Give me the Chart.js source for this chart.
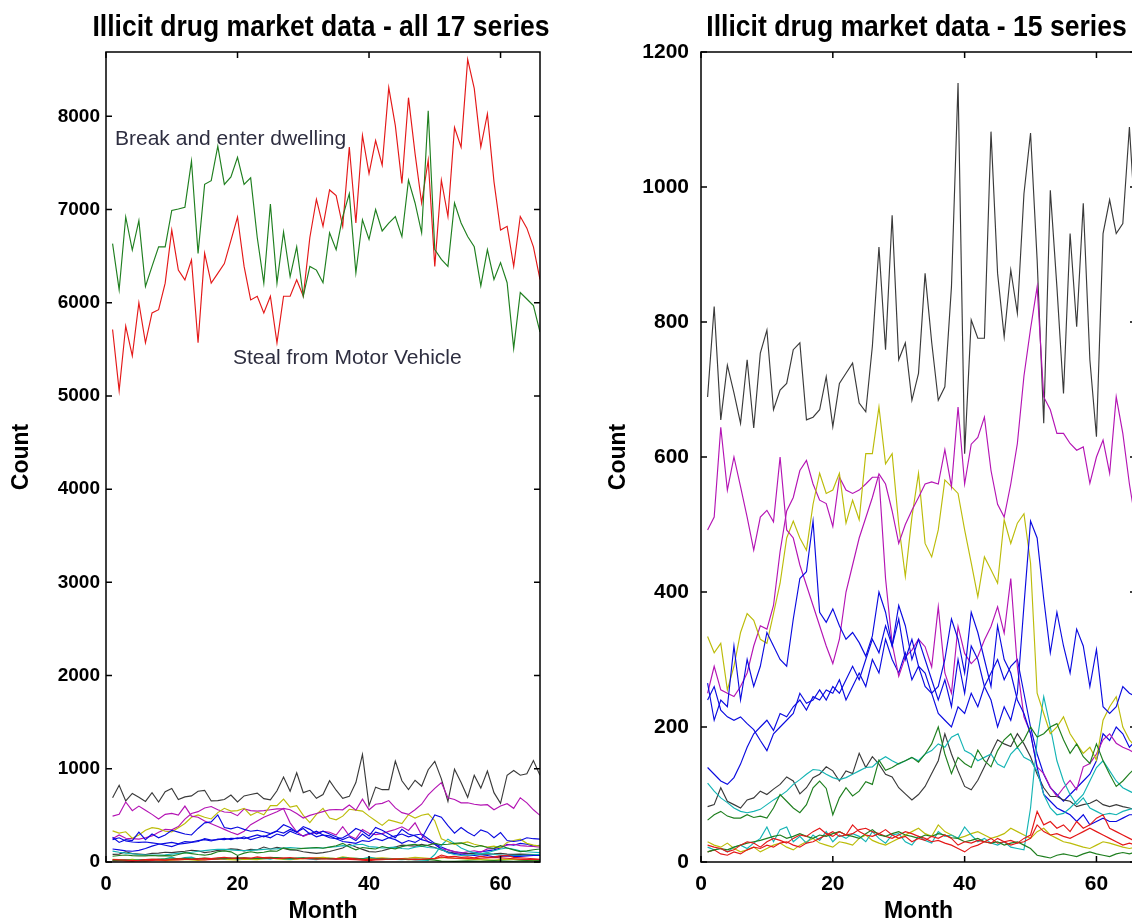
<!DOCTYPE html>
<html><head><meta charset="utf-8">
<script src="https://cdn.jsdelivr.net/npm/chart.js@4/dist/chart.umd.min.js"></script>
<style>
html,body{margin:0;padding:0;background:#fff;overflow:hidden;width:1132px;height:923px;}
#c1{position:absolute;left:0;top:0;}
#c2{position:absolute;left:597px;top:0;}
</style></head><body>
<canvas id="c1" width="566" height="923"></canvas>
<canvas id="c2" width="564" height="923"></canvas>
<script>
// ---- data ----
const months = [1,2,3,4,5,6,7,8,9,10,11,12,13,14,15,16,17,18,19,20,21,22,23,24,25,26,27,28,29,30,31,32,33,34,35,36,37,38,39,40,41,42,43,44,45,46,47,48,49,50,51,52,53,54,55,56,57,58,59,60,61,62,63,64,65,66];
const xTicks = [0,20,40,60];
const yTicksAll = [0,1000,2000,3000,4000,5000,6000,7000,8000];
const yTicks15 = [0,200,400,600,800,1000,1200];

const breakEnterDwelling = [5713,5057,5750,5430,6000,5570,5890,5925,6210,6780,
 6350,6245,6460,5570,6530,6210,6315,6420,6670,6920,
 6390,6030,6070,5890,6070,5570,6070,6070,6245,6070,
 6700,7110,6820,7210,7150,6820,7670,6855,7795,7385,
 7740,7475,8308,7900,7280,8200,7600,7070,7530,6390,
 7315,6925,7880,7670,8610,8300,7670,8025,7300,6780,
 6820,6390,6925,6800,6600,6250];
const stealFromMotorVehicle = [6635,6140,6920,6565,6880,6175,6390,6600,6600,6990,
 7005,7025,7520,6530,7270,7310,7680,7270,7350,7560,
 7270,7340,6700,6210,7060,6210,6760,6280,6600,6070,
 6390,6350,6215,6750,6570,6925,7170,6320,6890,6680,
 7000,6770,6855,6925,6710,7315,7070,6750,8060,6570,
 6465,6390,7070,6855,6710,6600,6180,6570,6250,6430,
 6215,5510,6110,6040,5970,5685];

const blackTop = [689,823,655,736,695,650,744,643,754,788,
 670,699,709,759,769,655,659,670,719,645,
 709,724,739,680,667,764,911,759,958,744,
 769,684,724,872,770,684,704,852,1154,605,
 803,776,776,1082,872,778,877,813,990,1080,
 892,650,995,852,694,931,793,976,744,630,
 931,981,931,946,1089,930];
const blackLow = [82,85,110,90,85,80,92,95,105,100,
 108,115,126,120,101,110,125,130,141,135,
 120,135,131,161,140,156,145,130,126,110,
 101,92,100,112,131,150,190,160,135,112,
 107,121,141,161,181,175,171,190,175,156,
 130,110,97,97,92,90,82,85,87,92,
 85,82,85,82,80,77];
const magentaA = [492,511,644,551,600,556,511,462,511,521,
 504,600,492,480,440,410,380,350,320,294,
 330,400,440,480,510,540,575,560,520,472,
 500,521,540,560,563,560,611,556,674,560,
 619,629,659,580,530,511,560,620,720,790,
 852,689,670,635,635,620,610,615,561,600,
 625,576,689,635,560,500];
const magentaB = [250,290,255,250,245,260,280,320,350,345,
 380,460,520,540,580,595,560,536,531,497,
 570,551,546,551,560,570,570,420,324,275,
 304,314,330,319,289,378,280,250,349,309,
 294,304,329,349,378,339,420,289,215,191,
 141,131,111,97,110,121,107,141,146,160,
 181,190,176,170,166,160];
const yellowHigh = [334,310,324,255,290,340,368,358,330,324,
 368,413,480,505,480,462,530,576,546,551,
 576,502,536,507,605,605,674,590,605,500,
 423,511,576,472,452,492,566,556,546,492,
 443,393,452,433,413,507,472,502,516,443,
 250,220,190,200,215,190,175,161,170,151,
 210,230,245,200,181,170];
const yellowLow = [30,25,22,28,20,15,18,22,15,20,
 25,28,22,18,25,30,35,28,25,22,
 30,28,25,35,40,32,28,25,30,35,
 40,45,50,42,38,55,45,40,35,38,
 42,45,40,35,38,42,50,45,40,35,
 45,50,40,35,30,28,25,22,20,25,
 30,28,25,22,20,22];
const blueX = [265,210,240,230,320,240,300,260,290,340,
 320,300,290,360,420,430,505,370,355,375,
 350,330,340,325,305,335,400,370,320,380,
 350,300,330,300,270,240,270,230,300,250,
 320,300,260,240,200,230,210,250,380,505,
 480,390,310,370,320,280,345,320,260,315,
 230,220,230,260,250,245];
const blueY = [240,260,225,215,210,215,205,196,180,165,
 190,200,210,220,250,235,240,255,240,260,
 250,270,290,270,300,330,310,350,320,360,
 300,330,290,280,250,260,300,360,330,280,
 370,340,300,260,350,300,280,240,220,190,
 140,100,90,80,75,70,60,70,55,60,
 65,60,60,65,70,70];
const blueZ = [140,130,120,115,125,145,170,190,200,210,
 195,220,215,230,240,225,245,240,255,250,
 270,240,260,280,260,300,280,330,300,280,
 310,270,290,260,250,220,210,200,230,220,
 250,230,260,280,300,270,290,300,250,200,
 160,130,110,100,90,100,110,120,130,150,
 190,180,200,190,170,180];
const greenMid = [62,70,75,68,65,65,70,66,68,65,
 80,100,90,80,73,85,110,120,109,70,
 95,110,98,105,119,115,151,136,140,146,
 150,155,148,160,175,200,160,131,155,146,
 140,166,150,141,165,181,190,170,181,200,
 185,190,200,205,181,161,175,156,146,175,
 150,130,112,120,131,140];
const greenLow = [15,18,20,18,22,25,28,30,32,35,
 38,40,35,38,42,38,35,40,38,42,
 45,40,38,35,42,48,40,38,42,45,
 40,38,35,40,38,42,40,36,35,30,
 32,35,30,28,30,25,28,30,25,20,
 10,8,6,10,12,10,8,12,15,12,
 10,8,12,14,12,15];
const cyanMid = [117,105,95,88,80,75,73,75,78,85,
 92,98,105,115,122,130,137,136,130,125,
 122,125,130,135,140,141,150,156,150,145,
 150,155,150,160,165,175,170,185,190,165,
 160,150,155,160,145,140,160,170,155,150,
 135,100,80,70,72,80,90,100,120,140,
 150,135,120,110,105,100];
const cyanLow = [22,18,20,15,22,25,20,28,35,52,
 30,48,52,30,38,28,40,32,45,30,
 40,35,42,38,30,45,35,28,40,42,
 30,25,38,32,28,45,38,40,35,52,
 40,30,35,28,25,30,22,20,18,80,
 180,245,200,150,120,100,85,95,80,75,
 70,72,70,75,78,80];
const redLowA = [25,22,20,15,18,25,30,28,22,30,
 35,32,28,35,40,38,45,50,42,38,
 45,40,55,45,40,38,42,48,40,35,
 38,30,35,32,38,35,40,35,25,30,
 28,32,30,28,35,30,25,28,35,40,
 75,55,60,50,55,45,60,50,55,65,
 70,50,45,40,35,30];
const redLowB = [15,18,12,10,15,12,18,22,20,25,
 22,28,30,25,22,28,30,35,40,45,
 38,40,42,48,50,45,42,38,35,40,
 45,42,38,35,30,32,28,25,20,15,
 22,25,30,35,28,30,32,28,30,35,
 55,45,40,42,38,35,40,45,50,45,
 40,35,30,25,28,25];

const annotations = [
  {text:'Break and enter dwelling', month:1.37, count:7689},
  {text:'Steal from Motor Vehicle', month:19.3, count:5340}
];

// ---- styles ----
const C = {b:'#0a0ae0', g:'#1f7f1f', r:'#e41818', c:'#14b4b4', m:'#b414b4', y:'#bcbc0a', k:'#3a3a3a'};
const fifteen = [
  [blueX,C.b],[greenMid,C.g],[redLowA,C.r],[cyanMid,C.c],[magentaA,C.m],[yellowHigh,C.y],[blackTop,C.k],
  [blueY,C.b],[greenLow,C.g],[redLowB,C.r],[cyanLow,C.c],[magentaB,C.m],[yellowLow,C.y],[blackLow,C.k],
  [blueZ,C.b]
];
const big = [[stealFromMotorVehicle,C.g],[breakEnterDwelling,C.r]];

function ds(arr,color){
  return {data: months.map((m,i)=>({x:m,y:arr[i]})), borderColor:color, borderWidth:1.15,
          pointRadius:0, fill:false, tension:0};
}

const SANS = "'Liberation Sans', Arial, Helvetica, sans-serif";
const AXTF = {family:SANS, size:23, weight:'bold', lineHeight:1};

const framePlugin = {
  id:'frame',
  afterDatasetsDraw(chart){
    const {ctx, chartArea:a, scales:{x,y}} = chart;
    ctx.save();
    ctx.strokeStyle='#000'; ctx.lineWidth=1.5;
    ctx.strokeRect(a.left, a.top, a.right-a.left, a.bottom-a.top);
    const L=6;
    ctx.beginPath();
    x.ticks.forEach(t=>{const p=x.getPixelForValue(t.value);
      ctx.moveTo(p,a.bottom); ctx.lineTo(p,a.bottom-L); ctx.moveTo(p,a.top); ctx.lineTo(p,a.top+L);});
    y.ticks.forEach(t=>{const p=y.getPixelForValue(t.value);
      ctx.moveTo(a.left,p); ctx.lineTo(a.left+L,p); ctx.moveTo(a.right,p); ctx.lineTo(a.right-L,p);});
    ctx.stroke();
    ctx.restore();
  }
};
const notePlugin = {
  id:'notes',
  afterDatasetsDraw(chart){
    const cfg = chart.options.plugins.notes;
    if(!cfg || !cfg.items) return;
    const {ctx, scales:{x,y}} = chart;
    ctx.save();
    ctx.font = "21px " + SANS;
    ctx.fillStyle = '#2e2e40'; ctx.textAlign='left'; ctx.textBaseline='alphabetic';
    cfg.items.forEach(n=>{
      ctx.fillText(n.text, x.getPixelForValue(n.month), y.getPixelForValue(n.count));
    });
    ctx.restore();
  }
};
// condensed bold title centred over the axes box
const titlePlugin = {
  id:'bigTitle',
  afterDraw(chart){
    const cfg = chart.options.plugins.bigTitle;
    if(!cfg || !cfg.text) return;
    const {ctx, chartArea:a} = chart;
    ctx.save();
    ctx.font = "bold 29px " + SANS;
    ctx.fillStyle = '#000'; ctx.textAlign='center'; ctx.textBaseline='alphabetic';
    ctx.translate((a.left+a.right)/2 - 2, 36);
    ctx.scale(0.915, 1);
    ctx.fillText(cfg.text, 0, 0);
    ctx.restore();
  }
};

function makeChart(id, datasets, title, yMax, yTicks, yWidth, rightPad, notes, yTickSize, yTickPad, xTickSize){
  return new Chart(document.getElementById(id), {
    type:'line',
    data:{datasets},
    plugins:[framePlugin, notePlugin, titlePlugin],
    options:{
      responsive:false, animation:false, events:[],
      layout:{padding:{left:0,right:rightPad,top:52,bottom:0}},
      plugins:{legend:{display:false}, tooltip:{enabled:false}, title:{display:false},
        bigTitle:{text:title}, notes:{items:notes}},
      scales:{
        x:{type:'linear', min:0, max:66,
          afterBuildTicks:s=>{s.ticks = xTicks.map(v=>({value:v}));},
          afterFit:s=>{s.height=61;},
          grid:{display:false, drawTicks:false}, border:{display:false},
          ticks:{font:{family:SANS,size:xTickSize,weight:'bold'}, color:'#000', padding:10, maxRotation:0, autoSkip:false, callback:v=>String(v)},
          title:{display:true, text:'Month', color:'#000', font:AXTF, padding:{top:0,bottom:0}}},
        y:{type:'linear', min:0, max:yMax,
          afterBuildTicks:s=>{s.ticks = yTicks.map(v=>({value:v}));},
          afterFit:s=>{s.width=yWidth;},
          grid:{display:false, drawTicks:false}, border:{display:false},
          ticks:{font:{family:SANS,size:yTickSize,weight:'bold'}, color:'#000', padding:yTickPad, autoSkip:false, callback:v=>String(v)},
          title:{display:true, text:'Count', color:'#000', font:AXTF, padding:{top:10.5,bottom:0}}}
      }
    }
  });
}

const leftSets = fifteen.map(s=>ds(s[0],s[1])).concat(big.map(s=>ds(s[0],s[1])));
const rightSets = fifteen.map(s=>ds(s[0],s[1]));
makeChart('c1', leftSets, 'Illicit drug market data - all 17 series', 8690, yTicksAll, 106, 26, annotations, 19, 6, 20);
makeChart('c2', rightSets, 'Illicit drug market data - 15 series', 1200, yTicks15, 104, 25, null, 21, 12, 21);
</script>
</body></html>
